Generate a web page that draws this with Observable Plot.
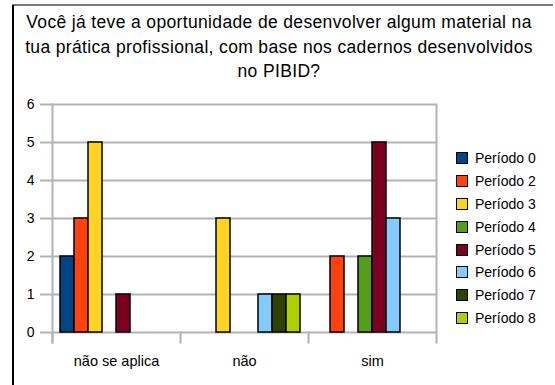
<!DOCTYPE html>
<html>
<head>
<meta charset="utf-8">
<script src="https://cdn.jsdelivr.net/npm/d3@7"></script>
<script src="https://cdn.jsdelivr.net/npm/@observablehq/plot@0.6"></script>
<style>
  html, body { margin: 0; padding: 0; background: #fff; }
  body { font-family: "Liberation Sans", Arial, sans-serif; }
  #wrap { position: relative; width: 555px; height: 385px; overflow: hidden; }
  #bTop { position: absolute; left: 12px; top: 4px; width: 541px; height: 2px; background: #7a7a7a; }
  #bLeft { position: absolute; left: 12px; top: 5px; width: 1.5px; height: 380px; background: #000; }
  #title { position: absolute; left: 12px; width: 534px; top: 10px; text-align: center; font-size: 17.5px; letter-spacing: 0.35px; line-height: 24.5px; color: #000; white-space: nowrap; }
  #chart { position: absolute; left: 0; top: 0; }
  #legend { position: absolute; left: 456px; top: 147px; }
  .row { height: 22.8px; display: flex; align-items: center; font-size: 14px; color: #000; }
  .sw { width: 12px; height: 12px; box-sizing: border-box; border: 1.5px solid #000; margin-right: 7px; }
</style>
</head>
<body>
<div id="wrap">
  <div id="bTop"></div>
  <div id="bLeft"></div>
  <div id="chart"></div>
  <div id="title">Você já teve a oportunidade de desenvolver algum material na<br>tua prática profissional, com base nos cadernos desenvolvidos<br>no PIBID?</div>
  <div id="legend"></div>
</div>
<script>
const categories = ["não se aplica", "não", "sim"];
const periods = ["Período 0", "Período 2", "Período 3", "Período 4", "Período 5", "Período 6", "Período 7", "Período 8"];
const colors = ["#004586", "#ff420e", "#ffd320", "#579d1c", "#7e0021", "#83caff", "#314004", "#aecf00"];
const valuesNaoSeAplica = [2, 3, 5, 0, 1, 0, 0, 0];
const valuesNao = [0, 0, 3, 0, 0, 1, 1, 1];
const valuesSim = [0, 2, 0, 2, 5, 3, 0, 0];
const yTicks = [0, 1, 2, 3, 4, 5, 6];

const series = [valuesNaoSeAplica, valuesNao, valuesSim];
const data = categories.flatMap((c, i) =>
  periods.map((p, j) => ({ category: c, period: p, value: series[i][j] }))
).filter(d => d.value > 0);

const W = 555, H = 385, mL = 52, mR = 119, mT = 104, mB = 53;
const innerH = H - mT - mB;
const grid = "#b3b3b3";

const chart = Plot.plot({
  width: W, height: H,
  marginLeft: mL, marginRight: mR, marginTop: mT, marginBottom: mB,
  style: { fontFamily: "'Liberation Sans', Arial, sans-serif", background: "transparent" },
  fx: { domain: categories, padding: 0, label: null, axis: null },
  x: { domain: periods, paddingInner: 0, paddingOuter: 0.33, axis: null },
  y: { domain: [0, 6], axis: null },
  color: { domain: periods, range: colors },
  marks: [
    Plot.gridY(yTicks, { stroke: grid, strokeOpacity: 1, strokeWidth: 2 }),
    Plot.axisY(yTicks, { tickSize: 12, tickPadding: 6, stroke: grid, strokeWidth: 2, fill: "black", fontSize: 14, label: null }),
    Plot.frame({ facet: "super", anchor: "left", stroke: grid, strokeWidth: 2, insetBottom: -10 }),
    Plot.frame({ facet: "super", anchor: "right", stroke: grid, strokeWidth: 2, insetBottom: -10 }),
    Plot.frame({ anchor: "left", stroke: grid, strokeWidth: 2, insetTop: innerH, insetBottom: -10 }),
    Plot.barY(data, { fx: "category", x: "period", y: "value", fill: "period", stroke: "black", strokeWidth: 1.5 }),
    Plot.axisFx({ anchor: "bottom", tickSize: 0, tickPadding: 23, fontSize: 14.5, fill: "black", label: null })
  ]
});
document.getElementById("chart").appendChild(chart);

const legend = document.getElementById("legend");
periods.forEach((p, i) => {
  const row = document.createElement("div");
  row.className = "row";
  const sw = document.createElement("div");
  sw.className = "sw";
  sw.style.background = colors[i];
  const t = document.createElement("span");
  t.textContent = p;
  row.appendChild(sw);
  row.appendChild(t);
  legend.appendChild(row);
});
</script>
</body>
</html>
